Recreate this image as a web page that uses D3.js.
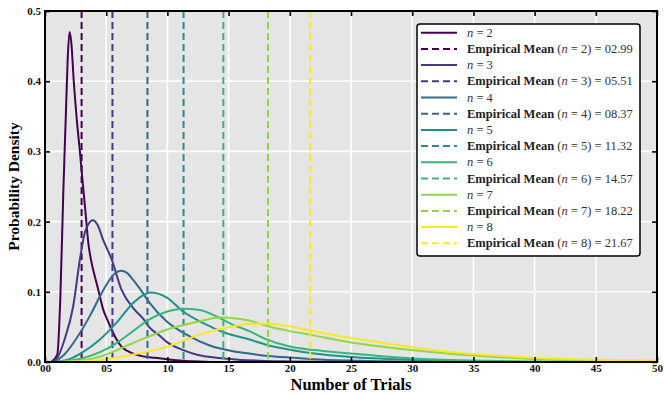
<!DOCTYPE html>
<html>
<head>
<meta charset="utf-8">
<script src="https://cdn.jsdelivr.net/npm/d3@7"></script>
<style>
  body { margin: 0; background: #fff; }
  text { font-family: "Liberation Serif", "DejaVu Serif", serif; }
</style>
</head>
<body>
<svg id="viz"></svg>
<script>
// number of items n and the empirical means
var nValues = [2, 3, 4, 5, 6, 7, 8]
var means = [2.99, 5.51, 8.37, 11.32, 14.57, 18.22, 21.67]

// density curves, [trials, density]
var density2 = [[0.5,0],[1.0,0.01],[1.25,0.09],[1.5,0.245],[1.7,0.35],[1.85,0.43],[2.0,0.47],[2.15,0.455],[2.35,0.40],[2.6,0.345],[2.85,0.30],[3.1,0.252],[3.3,0.215],[3.55,0.168],[3.8,0.142],[4.1,0.12],[4.35,0.103],[4.75,0.075],[5.1,0.06],[5.45,0.046],[5.85,0.032],[6.25,0.022],[6.8,0.015],[7.35,0.011],[8,0.008],[9,0.006],[10,0.004],[11,0.002],[12,0.001],[14,0],[50,0]]
var density3 = [[0.5,0],[1.0,0.006],[1.6,0.032],[2.3,0.079],[2.85,0.146],[3.25,0.184],[3.6,0.198],[3.9,0.202],[4.3,0.195],[4.75,0.174],[5.45,0.146],[6.25,0.103],[7.3,0.075],[8.0,0.062],[8.5,0.05],[9.4,0.037],[10,0.028],[11.3,0.017],[12.5,0.01],[14,0.006],[16,0.003],[18,0.0015],[20,0.0008],[25,0],[50,0]]
var density4 = [[0.8,0],[1.6,0.011],[2.7,0.037],[3.8,0.07],[4.5,0.094],[5.2,0.115],[5.7,0.126],[6.2,0.13],[6.7,0.127],[7.2,0.117],[7.6,0.108],[8.56,0.084],[9.93,0.058],[11.56,0.039],[13.46,0.0235],[15.36,0.0154],[16.7,0.012],[18,0.009],[20,0.0065],[22,0.004],[25,0.002],[30,0.0005],[35,0],[50,0]]
var density5 = [[0.8,0],[2,0.004],[3,0.013],[4.49,0.032],[5.85,0.056],[7.2,0.084],[8,0.095],[8.6,0.099],[9.3,0.097],[9.93,0.092],[11.28,0.072],[12.64,0.058],[13.46,0.051],[14.5,0.043],[15.4,0.038],[16.7,0.032],[18,0.025],[20,0.0175],[22,0.012],[25,0.007],[30,0.003],[35,0.001],[40,0],[50,0]]
var density6 = [[1,0],[3,0.005],[4.49,0.014],[5.85,0.027],[7.2,0.044],[8.56,0.061],[10,0.072],[11.3,0.076],[12.64,0.074],[14,0.065],[15.36,0.053],[16.7,0.044],[18,0.033],[20,0.022],[22,0.017],[25,0.012],[30,0.005],[35,0.002],[40,0.0007],[45,0],[50,0]]
var density7 = [[1,0],[3,0.002],[4.49,0.0074],[7.2,0.027],[9.93,0.046],[12.64,0.058],[14.3,0.0635],[15.9,0.0614],[16.7,0.059],[18,0.052],[20,0.044],[21.6,0.039],[24.9,0.028],[29.5,0.0178],[33.85,0.0107],[38,0.006],[42,0.003],[46,0.0015],[50,0.0005]]
var density8 = [[1,0],[4.49,0.003],[7.2,0.0107],[9.93,0.0216],[12.64,0.039],[15.36,0.051],[16.7,0.054],[18,0.0548],[20,0.051],[21.6,0.0453],[24.88,0.0344],[29.5,0.0225],[33.85,0.013],[38,0.008],[42,0.0045],[46,0.003],[50,0.002]]

var densities = [density2, density3, density4, density5, density6, density7, density8]

var xTicks = [0, 5, 10, 15, 20, 25, 30, 35, 40, 45, 50]
var yTicks = [0, 0.1, 0.2, 0.3, 0.4, 0.5]

var colors = ["#440154", "#443983", "#31688e", "#21918c", "#35b779", "#90d743", "#fde725"]

var width = 664
var height = 394
var margin = {left: 45, top: 11, right: 7, bottom: 32}
var plotW = width - margin.left - margin.right
var plotH = height - margin.top - margin.bottom

var svg = d3.select("#viz")
	.attr("width", width)
	.attr("height", height)

var scaleX = d3.scaleLinear().domain([0, 50]).range([0, plotW])
var scaleY = d3.scaleLinear().domain([0, 0.5]).range([plotH, 0])

var g = svg.append("g")
	.attr("transform", "translate(" + margin.left + "," + margin.top + ")")

g.append("rect")
	.attr("width", plotW)
	.attr("height", plotH)
	.attr("fill", "#e5e5e5")

// clip so the curves stay inside the frame
g.append("clipPath").attr("id", "clip")
	.append("rect").attr("width", plotW).attr("height", plotH)

// grid
g.selectAll(".gx")
	.data(xTicks.slice(1, -1))
	.enter().append("line")
	.attr("x1", d => scaleX(d)).attr("x2", d => scaleX(d))
	.attr("y1", 0).attr("y2", plotH)
	.attr("stroke", "#fff").attr("stroke-width", 1.6)

g.selectAll(".gy")
	.data(yTicks.slice(1, -1))
	.enter().append("line")
	.attr("x1", 0).attr("x2", plotW)
	.attr("y1", d => scaleY(d)).attr("y2", d => scaleY(d))
	.attr("stroke", "#fff").attr("stroke-width", 1.6)

var plotArea = g.append("g").attr("clip-path", "url(#clip)")

var line = d3.line()
	.x(d => scaleX(d[0]))
	.y(d => scaleY(d[1]))
	.curve(d3.curveMonotoneX)

for(let i = 0; i < nValues.length; i++){
	plotArea.append("path")
		.attr("d", line(densities[i]))
		.attr("fill", "none")
		.attr("stroke", colors[i])
		.attr("stroke-width", 2)

	plotArea.append("line")
		.attr("x1", scaleX(means[i])).attr("x2", scaleX(means[i]))
		.attr("y1", 0).attr("y2", plotH)
		.attr("stroke", colors[i])
		.attr("stroke-width", 2)
		.attr("stroke-dasharray", "7,4")
}

// axes with inward ticks on all four sides
var xFmt = d3.format("02d")
var yFmt = d3.format(".1f")

var axB = g.append("g").attr("transform", "translate(0," + plotH + ")")
	.call(d3.axisBottom(scaleX).tickValues(xTicks).tickFormat(xFmt).tickSizeInner(-5).tickSizeOuter(0).tickPadding(2))
var axT = g.append("g")
	.call(d3.axisTop(scaleX).tickValues(xTicks).tickFormat("").tickSizeInner(-5).tickSizeOuter(0))
var axL = g.append("g")
	.call(d3.axisLeft(scaleY).tickValues(yTicks).tickFormat(yFmt).tickSizeInner(-5).tickSizeOuter(0).tickPadding(4))
var axR = g.append("g").attr("transform", "translate(" + plotW + ",0)")
	.call(d3.axisRight(scaleY).tickValues(yTicks).tickFormat("").tickSizeInner(-5).tickSizeOuter(0))

;[axB, axT, axL, axR].forEach(function(ax){
	ax.select(".domain").remove()
	ax.selectAll(".tick line").attr("stroke", "#000").attr("stroke-width", 1.6)
	ax.selectAll("text")
		.attr("fill", "#111")
		.style("font-size", "11px")
		.style("font-weight", "bold")
})

g.append("rect")
	.attr("width", plotW)
	.attr("height", plotH)
	.attr("fill", "none")
	.attr("stroke", "#000")
	.attr("stroke-width", 2)

// axis labels
svg.append("text")
	.attr("x", margin.left + plotW / 2)
	.attr("y", 390)
	.attr("text-anchor", "middle")
	.style("font-size", "16.5px")
	.style("font-weight", "bold")
	.text("Number of Trials")

svg.append("text")
	.attr("transform", "translate(19," + (margin.top + plotH / 2) + ") rotate(-90)")
	.attr("text-anchor", "middle")
	.style("font-size", "15.5px")
	.style("font-weight", "bold")
	.text("Probability Density")

// legend
var legX = 417, legY = 24, legW = 223, legH = 232, rowH = 16.2
var legend = svg.append("g")

legend.append("rect")
	.attr("x", legX).attr("y", legY)
	.attr("width", legW).attr("height", legH)
	.attr("rx", 3)
	.attr("fill", "#fff")
	.attr("stroke", "#000")
	.attr("stroke-width", 1.5)

var meanFmt = d3.format("05.2f")

for(let i = 0; i < nValues.length; i++){
	let y1 = legY + 8.7 + rowH * (2 * i)
	let y2 = y1 + rowH

	legend.append("line")
		.attr("x1", 421).attr("x2", 457)
		.attr("y1", y1).attr("y2", y1)
		.attr("stroke", colors[i]).attr("stroke-width", 2)

	legend.append("line")
		.attr("x1", 421).attr("x2", 457)
		.attr("y1", y2).attr("y2", y2)
		.attr("stroke", colors[i]).attr("stroke-width", 2)
		.attr("stroke-dasharray", "7,4")

	let t1 = legend.append("text")
		.attr("x", 467).attr("y", y1 + 4)
		.style("font-size", "12.5px")
		.attr("fill", "#333")
	t1.append("tspan").style("font-style", "italic").text("n")
	t1.append("tspan").text(" = " + nValues[i])

	let t2 = legend.append("text")
		.attr("x", 467).attr("y", y2 + 4)
		.style("font-size", "12.5px")
		.attr("fill", "#333")
	t2.append("tspan").style("font-weight", "bold").attr("fill", "#222").text("Empirical Mean")
	t2.append("tspan").text(" (")
	t2.append("tspan").style("font-style", "italic").text("n")
	t2.append("tspan").text(" = " + nValues[i] + ") = " + meanFmt(means[i]))
}
</script>
</body>
</html>
